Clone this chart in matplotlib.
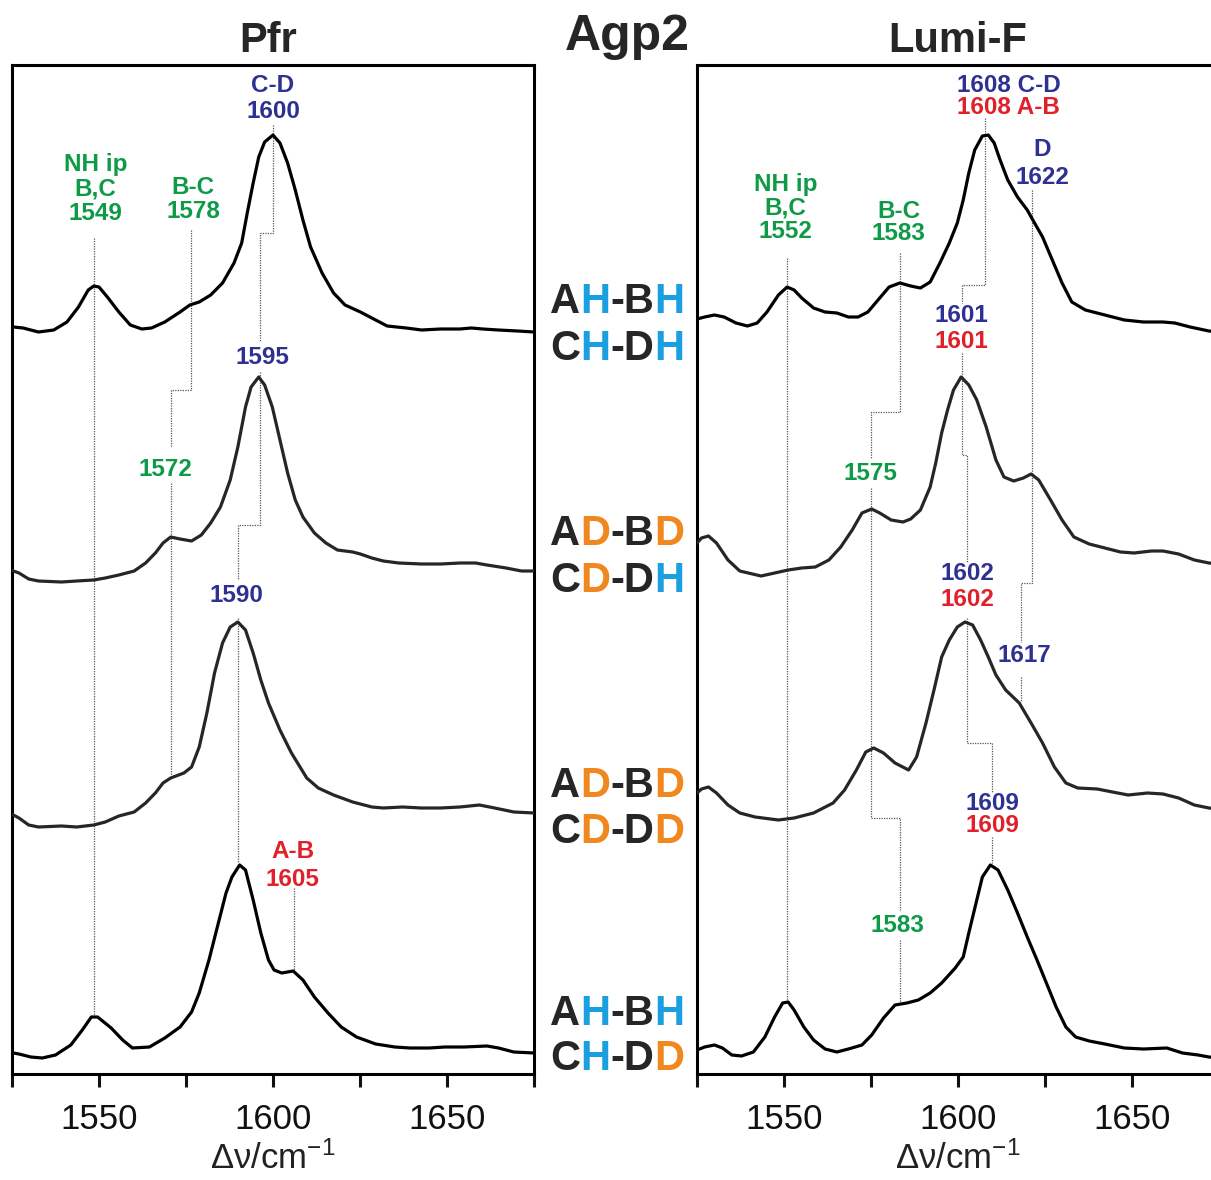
import numpy as np
import matplotlib
matplotlib.use("Agg")
from matplotlib import pyplot as plt

plt.rcParams['font.family'] = ['Liberation Sans', 'DejaVu Sans']
plt.rcParams['mathtext.fontset'] = 'custom'
plt.rcParams['mathtext.rm'] = 'Liberation Sans'
plt.rcParams['mathtext.it'] = 'Liberation Sans:italic'

W, H = 1211, 1180

GREEN = '#0f9a48'
NAVY = '#2e3192'
RED = '#e0202a'
HBLUE = '#1a9fe0'
DORANGE = '#f0871f'
DARK = '#262626'

#######################
## spectra (wavenumber, intensity a.u.)
#######################

# Pfr
pfr_hh_wn = [1525.4, 1528.2, 1532.6, 1537.0, 1540.8, 1544.1, 1546.9, 1548.5, 1550.0, 1552.4, 1555.7, 1559.0,
             1562.3, 1565.1, 1568.9, 1573.3, 1576.1, 1578.8, 1582.1, 1585.5, 1588.8, 1591.0, 1592.6, 1594.3,
             1595.9, 1597.6, 1600.0, 1602.0, 1604.2, 1606.4, 1608.6, 1610.8, 1614.1, 1617.4, 1620.7, 1625.1,
             1628.4, 1632.8, 1638.3, 1642.7, 1648.2, 1653.7, 1657.0, 1660.3, 1664.8, 1670.3, 1675.0]
pfr_hh_int = [7, 6, 2, 4, 12, 27, 44, 48, 47, 37, 22, 9, 5, 6, 12, 22, 29, 32, 39, 51, 71, 91, 121, 151,
              177, 192, 199, 191, 171, 144, 114, 87, 61, 41, 29, 22, 16, 8, 6, 4, 5, 5, 6, 5, 4, 3, 2]

pfr_dd_dh_wn = [1525.4, 1527.0, 1529.8, 1532.6, 1539.2, 1543.6, 1548.5, 1551.8, 1555.7, 1560.1, 1563.4, 1566.2,
                1568.4, 1570.6, 1573.3, 1576.6, 1579.4, 1582.1, 1584.9, 1587.7, 1589.9, 1592.1, 1593.7, 1595.9,
                1597.6, 1599.8, 1602.0, 1604.2, 1606.4, 1608.6, 1611.9, 1615.2, 1618.5, 1622.9, 1625.1, 1628.4,
                1631.7, 1636.1, 1642.7, 1648.2, 1653.7, 1658.2, 1661.5, 1667.0, 1671.4, 1675.0]
pfr_dd_dh_int = [3, 1, -5, -7, -8, -7, -6, -4, -1, 3, 11, 21, 31, 37, 35, 33, 39, 51, 67, 94, 127, 167, 187, 197,
                 189, 167, 134, 101, 74, 57, 41, 31, 24, 22, 20, 16, 13, 11, 10, 10, 11, 11, 9, 6, 3, 3]

pfr_dd_dd_wn = [1525.4, 1527.0, 1529.8, 1532.6, 1539.2, 1543.6, 1548.5, 1551.8, 1555.7, 1560.1, 1563.4, 1566.2,
                1568.4, 1570.6, 1574.4, 1576.6, 1578.8, 1581.0, 1583.2, 1585.5, 1587.7, 1589.9, 1592.1, 1594.3,
                1596.5, 1598.7, 1602.0, 1605.3, 1609.7, 1613.0, 1617.4, 1622.9, 1628.4, 1631.7, 1637.2, 1642.7,
                1648.2, 1653.7, 1659.3, 1663.7, 1669.2, 1675.0]
pfr_dd_dd_int = [1, -2, -9, -11, -10, -11, -9, -6, 0, 4, 13, 23, 33, 38, 43, 49, 69, 103, 143, 173, 189, 194,
                 186, 163, 136, 113, 86, 63, 38, 28, 21, 14, 9, 8, 9, 8, 8, 9, 11, 8, 4, 3]

pfr_hh_dd_wn = [1525.4, 1527.0, 1530.4, 1533.7, 1537.5, 1541.9, 1545.2, 1547.8, 1549.6, 1553.5, 1556.8, 1559.6,
                1564.5, 1568.9, 1573.3, 1576.6, 1578.8, 1581.6, 1584.3, 1586.5, 1588.2, 1590.4, 1592.1, 1594.3,
                1596.5, 1598.7, 1600.3, 1602.5, 1605.8, 1608.6, 1611.9, 1615.8, 1619.6, 1624.0, 1629.5, 1635.0,
                1639.4, 1644.9, 1649.4, 1654.9, 1661.5, 1664.8, 1669.2, 1675.0]
pfr_hh_dd_int = [3, 2, -1, -2, 1, 11, 26, 39, 39, 28, 16, 8, 9, 18, 29, 44, 63, 96, 133, 163, 179, 191, 186,
                 156, 123, 96, 86, 83, 85, 76, 59, 43, 29, 19, 12, 9, 8, 8, 9, 9, 10, 8, 4, 3]

# Lumi-F
lumi_hh_wn = [1525.0, 1527.2, 1530.0, 1532.8, 1536.2, 1539.5, 1542.3, 1545.1, 1548.4, 1550.9, 1552.9, 1555.1,
              1558.5, 1561.8, 1565.2, 1568.5, 1571.3, 1574.1, 1577.5, 1580.2, 1583.3, 1586.4, 1589.2, 1592.0,
              1594.8, 1597.5, 1599.8, 1601.5, 1603.1, 1604.8, 1607.0, 1608.7, 1610.4, 1612.1, 1614.3, 1617.1,
              1619.9, 1621.5, 1624.3, 1627.1, 1629.9, 1632.7, 1636.6, 1642.2, 1647.8, 1653.3, 1658.9, 1662.3,
              1666.7, 1672.1, 1675.0]
lumi_hh_int = [15, 17, 19, 17, 11, 8, 11, 22, 39, 47, 44, 36, 26, 22, 21, 17, 17, 22, 36, 47, 51, 48, 46, 52,
               71, 91, 111, 134, 161, 184, 198, 199, 191, 174, 154, 137, 124, 114, 97, 74, 51, 32, 24, 19, 14,
               12, 12, 11, 7, 3, 2]

lumi_dd_dh_wn = [1525.0, 1526.3, 1528.3, 1530.6, 1533.9, 1537.3, 1543.4, 1547.3, 1551.2, 1555.1, 1559.0, 1562.9,
                 1566.3, 1569.6, 1572.4, 1575.2, 1577.5, 1580.8, 1584.2, 1586.4, 1589.2, 1592.0, 1593.6, 1595.3,
                 1597.0, 1598.7, 1600.9, 1603.1, 1605.4, 1608.1, 1610.9, 1613.2, 1616.0, 1618.8, 1621.0, 1623.2,
                 1626.6, 1629.9, 1633.3, 1637.7, 1642.2, 1646.7, 1650.6, 1655.6, 1658.9, 1663.4, 1667.9, 1672.1,
                 1675.0]
lumi_dd_dh_int = [31, 36, 38, 31, 14, 3, -2, 1, 4, 6, 7, 14, 27, 44, 61, 65, 61, 54, 52, 55, 64, 87, 111, 141,
                  164, 184, 197, 189, 174, 147, 114, 97, 93, 96, 100, 94, 74, 54, 37, 30, 26, 22, 21, 23, 23,
                  20, 14, 11, 10]

lumi_dd_dd_wn = [1525.0, 1526.3, 1528.3, 1530.6, 1533.9, 1537.3, 1541.7, 1548.4, 1552.9, 1558.5, 1564.1, 1567.4,
                 1570.8, 1573.5, 1575.8, 1578.6, 1581.9, 1585.8, 1588.1, 1590.8, 1593.1, 1595.3, 1597.5, 1599.8,
                 1602.0, 1604.2, 1606.5, 1608.7, 1610.9, 1613.7, 1617.6, 1621.0, 1624.3, 1627.7, 1631.0, 1634.4,
                 1640.0, 1644.4, 1648.9, 1654.5, 1658.9, 1663.4, 1667.9, 1672.1, 1675.0]
lumi_dd_dd_int = [23, 27, 29, 23, 11, 3, -1, -4, -2, 3, 13, 26, 46, 64, 68, 63, 53, 46, 59, 93, 126, 159, 176,
                  189, 194, 191, 176, 159, 141, 126, 113, 93, 73, 49, 33, 28, 27, 24, 21, 23, 22, 18, 11, 8, 7]

lumi_hh_dd_wn = [1525.0, 1527.2, 1530.0, 1532.3, 1535.0, 1537.8, 1541.2, 1544.5, 1547.3, 1549.6, 1551.2, 1552.9,
                 1555.7, 1558.5, 1561.8, 1565.2, 1568.5, 1572.4, 1575.2, 1578.6, 1581.9, 1585.3, 1588.6, 1592.0,
                 1595.3, 1599.2, 1601.5, 1603.1, 1605.4, 1607.0, 1609.3, 1611.5, 1614.3, 1617.1, 1619.9, 1622.7,
                 1625.4, 1628.2, 1631.0, 1633.8, 1637.7, 1642.2, 1647.8, 1653.3, 1660.0, 1664.5, 1669.0, 1672.1,
                 1675.0]
lumi_hh_dd_int = [6, 9, 11, 8, 1, 0, 4, 19, 39, 53, 54, 46, 29, 16, 7, 4, 7, 11, 21, 38, 51, 53, 56, 63, 73, 88,
                  99, 123, 156, 179, 191, 186, 166, 143, 119, 96, 73, 49, 29, 19, 15, 12, 8, 7, 8, 3, 1, -1, -2]

# vertical stacking of the four spectra (top to bottom)
offsets = [740, 500, 258, 18]
trace_colors = ['#000000', DARK, DARK, '#000000']

# dotted guide paths: list of (wavenumbers, heights)
pfr_guides = [
    ([1548.5, 1548.5], [836, 57]),
    ([1576.3, 1576.3, 1570.6, 1570.6], [844, 684, 684, 627]),
    ([1570.6, 1570.6], [591, 299]),
    ([1600.0, 1600.0, 1596.3, 1596.3], [949, 841, 841, 732]),
    ([1596.3, 1596.3, 1590.0, 1590.0], [702, 549, 549, 494]),
    ([1590.0, 1590.0], [456, 212]),
    ([1606.0, 1606.0], [186, 104]),
]
lumi_guides = [
    ([1550.9, 1550.9], [816, 72]),
    ([1583.2, 1583.2, 1574.9, 1574.9], [821, 662, 662, 616]),
    ([1574.9, 1574.9, 1583.2, 1583.2], [586, 256, 256, 164]),
    ([1583.2, 1583.2], [134, 72]),
    ([1607.9, 1607.9, 1601.2, 1601.2], [956, 789, 789, 771]),
    ([1601.2, 1601.2, 1602.6, 1602.6], [721, 619, 619, 512]),
    ([1602.6, 1602.6, 1609.8, 1609.8], [456, 331, 331, 281]),
    ([1609.8, 1609.8], [237, 211]),
    ([1621.3, 1621.3, 1618.0, 1618.0], [884, 491, 491, 432]),
    ([1618.0, 1618.0], [397, 372]),
]

# band labels: (wavenumber, height, text, colour)
pfr_labels = [
    (1549.0, 909, 'NH ip', GREEN), (1549.0, 885, 'B,C', GREEN), (1549.0, 861, '1549', GREEN),
    (1577.0, 886, 'B-C', GREEN), (1577.0, 862, '1578', GREEN),
    (1600.0, 989, 'C-D', NAVY), (1600.0, 962, '1600', NAVY),
    (1597.0, 717, '1595', NAVY),
    (1569.0, 604, '1572', GREEN),
    (1589.4, 478, '1590', NAVY),
    (1605.7, 223, 'A-B', RED), (1605.7, 195, '1605', RED),
]
lumi_labels = [
    (1550.4, 889, 'NH ip', GREEN), (1550.4, 866, 'B,C', GREEN), (1550.4, 842, '1552', GREEN),
    (1583.0, 862, 'B-C', GREEN), (1583.0, 841, '1583', GREEN),
    (1614.6, 989, '1608 C-D', NAVY), (1614.6, 966, '1608 A-B', RED),
    (1624.3, 924, 'D', NAVY), (1624.3, 896, '1622', NAVY),
    (1600.9, 759, '1601', NAVY), (1600.9, 732, '1601', RED),
    (1574.9, 601, '1575', GREEN),
    (1602.6, 500, '1602', NAVY), (1602.6, 475, '1602', RED),
    (1619.1, 418, '1617', NAVY),
    (1609.8, 271, '1609', NAVY), (1609.8, 248, '1609', RED),
    (1582.5, 148, '1583', GREEN),
]

# isotopologue names, each part with its colour
sample_rows = [
    [('A', DARK), ('H', HBLUE), ('-B', DARK), ('H', HBLUE)],
    [('C', DARK), ('H', HBLUE), ('-D', DARK), ('H', HBLUE)],
    [('A', DARK), ('D', DORANGE), ('-B', DARK), ('D', DORANGE)],
    [('C', DARK), ('D', DORANGE), ('-D', DARK), ('H', HBLUE)],
    [('A', DARK), ('D', DORANGE), ('-B', DARK), ('D', DORANGE)],
    [('C', DARK), ('D', DORANGE), ('-D', DARK), ('D', DORANGE)],
    [('A', DARK), ('H', HBLUE), ('-B', DARK), ('H', HBLUE)],
    [('C', DARK), ('H', HBLUE), ('-D', DARK), ('D', DORANGE)],
]
sample_baselines = [313, 360, 545, 592, 797, 843, 1025, 1070]

tick_pos = [1525, 1550, 1575, 1600, 1625, 1650, 1675]
tick_lab = ['', '1550', '', '1600', '', '1650', '']


def draw_panel(ax, traces, guides, labels):
    for (wn, inten), off, c in zip(traces, offsets, trace_colors):
        ax.plot(wn, np.array(inten) + off, color=c, lw=2.3, solid_joinstyle='round', zorder=3)
    for xs, ys in guides:
        ax.plot(xs, ys, color='#555555', lw=0.9, ls=(0, (1, 1)), zorder=2)
    for x, y, s, c in labels:
        ax.text(x, y, s, color=c, fontsize=17.5, weight='bold', ha='center', va='center', zorder=4)

    ax.set_xlim(1525, 1675)
    ax.set_ylim(0, 1009)
    ax.set_yticks([])
    ax.set_xticks(tick_pos)
    ax.set_xticklabels(tick_lab)
    ax.tick_params(axis='x', direction='out', length=9, width=2.2, labelsize=25, pad=12, colors='#111111')
    for sp in ax.spines.values():
        sp.set_linewidth(2.2)
    ax.set_xlabel('Δν/cm$^{-1}$', fontsize=25, labelpad=4, color='#222222')


fig = plt.figure(figsize=(W / 100, H / 100), dpi=100)
ax1 = fig.add_axes([12 / W, 1 - 1074 / H, 522 / W, 1009 / H])
ax2 = fig.add_axes([697 / W, 1 - 1074 / H, 522 / W, 1009 / H])

draw_panel(ax1,
           [(pfr_hh_wn, pfr_hh_int), (pfr_dd_dh_wn, pfr_dd_dh_int),
            (pfr_dd_dd_wn, pfr_dd_dd_int), (pfr_hh_dd_wn, pfr_hh_dd_int)],
           pfr_guides, pfr_labels)
draw_panel(ax2,
           [(lumi_hh_wn, lumi_hh_int), (lumi_dd_dh_wn, lumi_dd_dh_int),
            (lumi_dd_dd_wn, lumi_dd_dd_int), (lumi_hh_dd_wn, lumi_hh_dd_int)],
           lumi_guides, lumi_labels)

# titles
fig.text(268 / W, 1 - 52 / H, 'Pfr', fontsize=30, weight='bold', color=DARK, ha='center', va='baseline')
fig.text(958 / W, 1 - 52 / H, 'Lumi-F', fontsize=30, weight='bold', color=DARK, ha='center', va='baseline')
fig.text(627 / W, 1 - 50 / H, 'Agp2', fontsize=36, weight='bold', color=DARK, ha='center', va='baseline')

# multi-coloured sample names in the middle column
renderer = fig.canvas.get_renderer()
for parts, yb in zip(sample_rows, sample_baselines):
    x = 550
    for s, c in parts:
        t = fig.text(x / W, 1 - yb / H, s, fontsize=30, weight='bold', color=c, ha='left', va='baseline')
        x += t.get_window_extent(renderer).width

fig.savefig('out.png', dpi=100)
